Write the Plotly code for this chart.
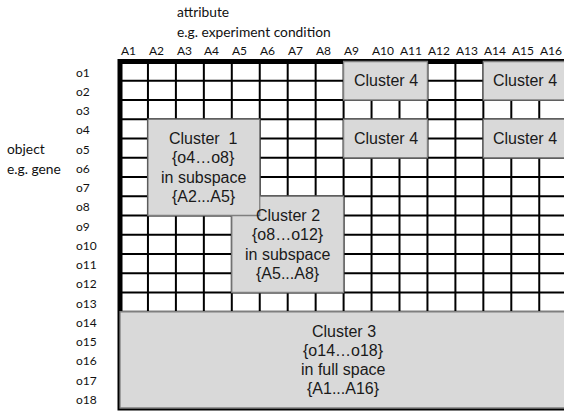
import plotly.graph_objects as go

# ---- data ----
attributes = ["A1", "A2", "A3", "A4", "A5", "A6", "A7", "A8",
              "A9", "A10", "A11", "A12", "A13", "A14", "A15", "A16"]
objects = ["o1", "o2", "o3", "o4", "o5", "o6", "o7", "o8", "o9",
           "o10", "o11", "o12", "o13", "o14", "o15", "o16", "o17", "o18"]

cluster_text = [
    ["Cluster 2", "{o8…o12}", "in subspace", "{A5...A8}"],
    ["Cluster  1", "{o4…o8}", "in subspace", "{A2...A5}"],
    ["Cluster 3", "{o14…o18}", "in full space", "{A1...A16}"],
    ["Cluster 4"],
    ["Cluster 4"],
    ["Cluster 4"],
    ["Cluster 4"],
]
cluster_row_from = ["o8", "o4", "o14", "o1", "o1", "o4", "o4"]
cluster_row_to = ["o12", "o8", "o18", "o2", "o2", "o5", "o5"]
cluster_col_from = ["A5", "A2", "A1", "A9", "A14", "A9", "A14"]
cluster_col_to = ["A8", "A5", "A16", "A11", "A16", "A11", "A16"]

axis_title_x = ["attribute", "e.g. experiment condition"]
axis_title_y = ["object", "e.g. gene"]

# ---- styling ----
TICK_FONT = dict(family="Lato, Carlito, Calibri, sans-serif", size=12, color="#111111")
TITLE_FONT = dict(family="Lato, Carlito, Calibri, sans-serif", size=13.8, color="#111111")
CLUSTER_FONT = dict(family="Liberation Sans, Arial, sans-serif", size=16, color="#1a1a1a")
FILL = "#d9d9d9"
EDGE = "#7f7f7f"

n_cols = len(attributes)
n_rows = len(objects)

shapes = []
# inner grid lines
for i in range(1, n_cols):
    shapes.append(dict(type="line", xref="x", yref="y", x0=i, x1=i, y0=0, y1=n_rows,
                       line=dict(color="black", width=2)))
for j in range(1, n_rows):
    shapes.append(dict(type="line", xref="x", yref="y", x0=0, x1=n_cols, y0=j, y1=j,
                       line=dict(color="black", width=2)))
# outer thick frame
shapes.append(dict(type="rect", xref="x", yref="y", x0=0, x1=n_cols, y0=0, y1=n_rows,
                   line=dict(color="black", width=5), fillcolor="rgba(0,0,0,0)"))

annotations = []
for lines, r0, r1, c0, c1 in zip(cluster_text, cluster_row_from, cluster_row_to,
                                 cluster_col_from, cluster_col_to):
    y0 = objects.index(r0)
    y1 = objects.index(r1) + 1
    x0 = attributes.index(c0)
    x1 = attributes.index(c1) + 1
    shapes.append(dict(type="rect", xref="x", yref="y", x0=x0, x1=x1, y0=y0, y1=y1,
                       fillcolor=FILL, line=dict(color=EDGE, width=1.3)))
    n = len(lines)
    for k, line in enumerate(lines):
        annotations.append(dict(x=(x0 + x1) / 2, y=(y0 + y1) / 2 + (k - (n - 1) / 2) * 1.0,
                                xref="x", yref="y", text=line, showarrow=False,
                                font=CLUSTER_FONT, xanchor="center", yanchor="middle"))

# column labels (top)
for i, a in enumerate(attributes):
    annotations.append(dict(x=i - 0.05, y=-0.57, xref="x", yref="y", text=a,
                            showarrow=False, font=TICK_FONT,
                            xanchor="left", yanchor="middle"))
# row labels (left)
for j, o in enumerate(objects):
    annotations.append(dict(x=-1.66, y=j + 0.55, xref="x", yref="y", text=o,
                            showarrow=False, font=TICK_FONT,
                            xanchor="left", yanchor="middle"))
# axis titles
annotations.append(dict(x=1.95, y=-2.6, xref="x", yref="y", text=axis_title_x[0],
                        showarrow=False, font=TITLE_FONT, xanchor="left", yanchor="middle"))
annotations.append(dict(x=1.95, y=-1.55, xref="x", yref="y", text=axis_title_x[1],
                        showarrow=False, font=TITLE_FONT, xanchor="left", yanchor="middle"))
annotations.append(dict(x=-4.1, y=4.5, xref="x", yref="y", text=axis_title_y[0],
                        showarrow=False, font=TITLE_FONT, xanchor="left", yanchor="middle"))
annotations.append(dict(x=-4.1, y=5.58, xref="x", yref="y", text=axis_title_y[1],
                        showarrow=False, font=TITLE_FONT, xanchor="left", yanchor="middle"))

fig = go.Figure()
fig.add_trace(go.Scatter(x=[None], y=[None], mode="markers", showlegend=False, hoverinfo="skip"))
fig.update_layout(
    width=564, height=412,
    margin=dict(l=0, r=0, t=0, b=0, pad=0),
    paper_bgcolor="white", plot_bgcolor="white",
    showlegend=False,
    shapes=shapes,
    annotations=annotations,
    xaxis=dict(range=[-4.2934, 15.8855], visible=False, fixedrange=True),
    yaxis=dict(range=[18.2078, -3.1948], visible=False, fixedrange=True),
)
fig.write_html(
    "out.html",
    config={"displayModeBar": False},
    post_script="document.body.style.margin='0';document.body.style.overflow='hidden';",
)
